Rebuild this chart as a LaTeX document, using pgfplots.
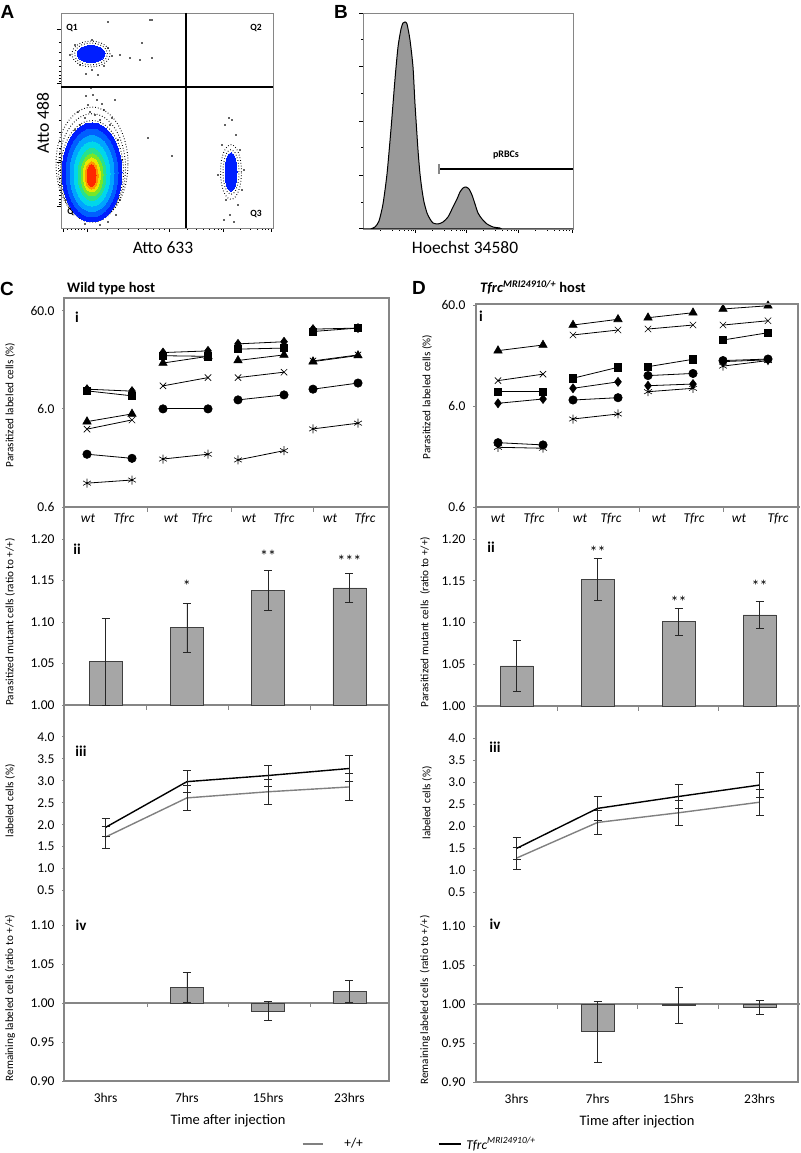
\documentclass[border=0pt]{standalone}
\usepackage{fontspec}
\setmainfont{Carlito}
\newfontfamily\arialfont{Liberation Sans}
\usepackage{pgfplots}
\usepackage{pgfplotstable}
\pgfplotsset{compat=1.18}
\newcommand{\fs}[1]{\fontsize{#1}{#1}\selectfont}
\definecolor{framegray}{RGB}{134,134,134}
\definecolor{bargray}{RGB}{166,166,166}
\definecolor{linegray}{RGB}{128,128,128}
\definecolor{histgray}{RGB}{153,153,153}
\definecolor{c1}{RGB}{0,30,255}
\definecolor{c2}{RGB}{0,95,255}
\definecolor{c3}{RGB}{0,165,255}
\definecolor{c4}{RGB}{0,215,235}
\definecolor{c5}{RGB}{40,225,140}
\definecolor{c6}{RGB}{120,230,40}
\definecolor{c7}{RGB}{235,230,0}
\definecolor{c8}{RGB}{255,150,0}
\definecolor{c9}{RGB}{255,40,0}

% ---------- data ----------
\pgfplotstableread{
x y e
105.6 1.052 0.052
186.9 1.093 0.030
268.1 1.138 0.024
349.4 1.141 0.017
}\Cii
\pgfplotstableread{
x y e
516.5 1.048 0.031
597.5 1.152 0.025
678.5 1.101 0.016
759.5 1.109 0.016
}\Dii
\pgfplotstableread{
x g ge b be
105.6 1.72 0.25 1.94 0.21
186.9 2.61 0.28 2.98 0.25
268.1 2.75 0.28 3.12 0.24
349.4 2.86 0.31 3.28 0.29
}\Ciii
\pgfplotstableread{
x g ge b be
516.5 1.27 0.25 1.49 0.24
597.5 2.08 0.28 2.40 0.27
678.5 2.30 0.28 2.67 0.28
759.5 2.54 0.29 2.93 0.29
}\Diii
\pgfplotstableread{
x y e
186.9 1.020 0.019
268.1 0.9895 0.012
349.4 1.0148 0.014
}\Civ
\pgfplotstableread{
x y e
597.5 0.9645 0.039
678.5 0.9987 0.023
759.5 0.9958 0.0085
}\Div

% one mouse: wt value and Tfrc value joined by a line
\newcommand{\pair}[5]{\addplot[ser,#1] coordinates {(#2,#3) (#4,#5)};}

\pgfplotsset{
  panel/.style={scale only axis, anchor=south west, clip=false,
    axis y line*=left, y axis line style={draw=none},
    tick align=outside, major tick length=3pt,
    ytick style={draw=framegray, line width=0.8pt},
    xtick style={draw=none},
    tick label style={font=\fs{13.5}},
    yticklabel style={xshift=-4pt},
    x axis line style={draw=framegray, line width=1.2pt}},
  logy/.style={y filter/.expression={ln(y)/ln(10)},
    ytick={-0.22185,0.77815,1.77815}, yticklabels={0.6,6.0,60.0}},
  ser/.style={black, line width=0.8pt, mark options={solid, fill=black, line width=0.6pt}},
  msq/.style={mark=square*, mark size=3.6pt},
  mdi/.style={mark=diamond*, mark size=4.5pt},
  mtr/.style={mark=triangle*, mark size=4.8pt},
  mxx/.style={mark=x, mark size=4.5pt},
  mci/.style={mark=*, mark size=4.2pt},
  mas/.style={mark=asterisk, mark size=4.5pt},
  errb/.style={error bars/y dir=both, error bars/y explicit,
    error bars/error bar style={black!85, line width=0.8pt},
    error bars/error mark options={rotate=90, mark size=4pt, black!85, line width=0.8pt}},
  bars/.style={ybar, bar width=33, fill=bargray, draw=black!75, line width=0.8pt, errb},
  ys/.style={every mark/.append style={yscale=#1}},
  blob/.style={only marks, mark=*, color=#1, mark options={draw=#1, fill=#1, line width=0pt}},
  ring/.style={only marks, mark=o, black, mark options={draw=black, line width=1pt, dash pattern=on 0.7pt off 2.1pt}},
  dots/.style={only marks, mark=*, mark size=0.55pt, black},
  flow/.style={scale only axis, anchor=south west,
    axis line style={draw=framegray, line width=0.8pt},
    tick pos=left, tick align=outside, major tick length=4pt, minor tick length=2pt,
    tick style={black, line width=0.5pt}, xticklabels={}, yticklabels={}},
}

\begin{document}
\begin{tikzpicture}
\useasboundingbox (0pt,0pt) rectangle (800pt,1153pt);

% ================= Panel A =================
\begin{axis}[flow, at={(61pt,925pt)}, width=212pt, height=215pt,
  xmin=61, xmax=273, ymin=13, ymax=228, y dir=reverse,
  xtick={63,87,169,223,271},
  minor xtick={67,71,75,78,81,84,96,107,118,128,138,146,153,159,164,187,196,203,209,214,218,221,240,250,257,262,265,268},
  ytick={29,83,162,206},
  minor ytick={42,52,60,66,71,75,78,81,105,120,132,141,148,153,157,160,170,178,185,190,195,199,202,204}]
\addplot[ring, ys=0.66, mark size=16.5pt] coordinates {(91,54)};
\addplot[ring, ys=0.68, mark size=19pt] coordinates {(91,54)};
\addplot[ring, ys=1.6, mark size=31.5pt] coordinates {(92,171)};
\addplot[ring, ys=1.62, mark size=33.5pt] coordinates {(92,168)};
\addplot[ring, ys=1.58, mark size=36pt] coordinates {(92,164)};
\addplot[ring, ys=2.8, mark size=8pt] coordinates {(231,172)};
\addplot[ring, ys=2.6, mark size=10.5pt] coordinates {(231,172)};
\addplot[dots] coordinates {(85,118) (90,112) (95,115) (100,120) (88,105) (97,100) (80,125) (104,110) (110,125) (75,130) (93,95) (115,100) (82,140) (118,140) (68,150) (122,160) (66,200) (120,200) (100,225) (85,224) (116,215) (108,222) (91,88) (86,96) (102,104) (78,112) (112,118)
 (75,45) (108,48) (80,65) (104,66) (70,55) (112,56) (92,40) (92,70) (120,55) (130,58) (140,60) (152,58) (108,22) (152,20) (142,43) (86,74) (98,75)
 (225,125) (232,120) (236,135) (222,145) (240,150) (226,200) (238,205) (230,215) (224,220) (242,190) (218,175) (244,170) (229,118) (234,222)
 (148,138) (172,156) (150,20)};
\addplot[blob=c1, ys=0.607, mark size=14pt] coordinates {(91,54)};
\addplot[blob=c1, ys=3.2, mark size=6pt] coordinates {(231,172)};
\addplot[blob=c1, ys=1.65, mark size=30pt] coordinates {(92,172.5)};
\addplot[blob=c2, ys=1.69, mark size=26pt] coordinates {(92,173)};
\addplot[blob=c3, ys=1.73, mark size=22pt] coordinates {(92,173.5)};
\addplot[blob=c4, ys=1.78, mark size=18pt] coordinates {(92,174)};
\addplot[blob=c5, ys=1.86, mark size=14pt] coordinates {(92,174.5)};
\addplot[blob=c6, ys=1.91, mark size=11pt] coordinates {(92,175)};
\addplot[blob=c7, ys=2.0, mark size=8.5pt] coordinates {(91.8,175)};
\addplot[blob=c8, ys=2.08, mark size=6.5pt] coordinates {(91.6,175.5)};
\addplot[blob=c9, ys=2.44, mark size=4.5pt] coordinates {(91.5,175.5)};
\addplot[black, line width=1.2pt] coordinates {(186,13) (186,228)};
\addplot[black, line width=1.2pt] coordinates {(61,87) (273,87)};
\node[font=\bfseries\fs{9.5}] at (axis cs:72,28) {Q1};
\node[font=\bfseries\fs{9.5}] at (axis cs:256,28) {Q2};
\node[font=\bfseries\fs{9.5}] at (axis cs:256,214) {Q3};
\node[font=\bfseries\fs{9.5}, fill=white, fill opacity=0.65, text opacity=1, inner sep=1.5pt] at (axis cs:73,212) {Q4};
\end{axis}

% ================= Panel B =================
\begin{axis}[flow, at={(363pt,924pt)}, width=210pt, height=216pt,
  xmin=363, xmax=573, ymin=0, ymax=216,
  xtick={415,466,518,572},
  minor xtick={380,392,399,404,408,411,413,432,444,451,456,460,462,464,483,495,502,507,511,514,516,535,547,554,559,563,566,569},
  ytick={1,54,108,163,216}, minor ytick={27,82,136,190}]
\addplot[fill=histgray, draw=black, line width=1pt, smooth, tension=0.4] coordinates {
(363,0) (370,0) (375,2) (379,8) (383,25) (387,55) (391,100) (395,150) (398,182) (401,200) (403,206) (405,207) (407,205) (410,189) (413,162) (415,125) (418,79) (420,55) (422,39) (424,27) (427,16) (430,10) (433,6) (438,5) (443,7) (448,12) (453,22) (457,30) (460,37) (463,41) (466,42) (469,40) (472,34) (475,25) (478,16) (482,10) (487,5) (493,2) (500,1) (506,0) (573,0)} \closedcycle;
\addplot[black, line width=1.2pt] coordinates {(439,60) (573,60)};
\addplot[framegray, line width=1.2pt] coordinates {(439,55) (439,65)};
\node[font=\bfseries\fs{10}] at (axis cs:506,74) {pRBCs};
\end{axis}

% ================= Panel C =================
\begin{axis}[panel, logy, at={(65pt,646pt)}, width=325pt, height=209pt,
  xmin=65, xmax=390, ymin=-0.22185, ymax=1.90849,
  axis x line*=bottom,
  xtick={88,124,171,202,249,284,330,365},
  xticklabels={\textit{wt},\textit{Tfrc},\textit{wt},\textit{Tfrc},\textit{wt},\textit{Tfrc},\textit{wt},\textit{Tfrc}}]
\pair{mdi}{87}{9.53}{132}{9.10}
\pair{msq}{87}{9.16}{132}{8.15}
\pair{mtr}{87}{4.45}{132}{5.33}
\pair{mxx}{87}{3.73}{132}{4.63}
\pair{mci}{87}{2.07}{132}{1.88}
\pair{mas}{87}{1.05}{132}{1.13}
\pair{mdi}{163}{22.5}{208}{23.4}
\pair{msq}{163}{20.9}{208}{20.6}
\pair{mtr}{163}{17.6}{208}{20.6}
\pair{mxx}{163}{10.3}{208}{12.5}
\pair{mci}{163}{6.0}{208}{6.0}
\pair{mas}{163}{1.85}{208}{2.07}
\pair{mdi}{238}{27.6}{284}{29.0}
\pair{msq}{238}{24.4}{284}{25.0}
\pair{mtr}{238}{18.7}{284}{21.3}
\pair{mxx}{238}{12.5}{284}{14.2}
\pair{mci}{238}{7.41}{284}{8.33}
\pair{mas}{238}{1.81}{284}{2.25}
\pair{mdi}{313}{39.0}{358}{40.0}
\pair{msq}{313}{36.9}{358}{40.0}
\pair{mtr}{313}{18.2}{358}{21.0}
\pair{mxx}{313}{18.5}{358}{21.3}
\pair{mci}{313}{9.53}{358}{11.0}
\pair{mas}{313}{3.75}{358}{4.29}
\end{axis}

\begin{axis}[panel, at={(65pt,448pt)}, width=325pt, height=178pt,
  xmin=65, xmax=390, ymin=0, ymax=0.2145,
  axis x line*=bottom, xtick=\empty,
  ytick={0,0.05,0.1,0.15,0.2}, yticklabels={1.00,1.05,1.10,1.15,1.20}]
\addplot[bars] table[x=x, y expr=\thisrow{y}-1, y error=e]{\Cii};
\node[font=\fs{16}, yshift=-3pt] at (axis cs:186.9,0.147) {*};
\node[font=\fs{16}, yshift=-3pt] at (axis cs:268.1,0.183) {**};
\node[font=\fs{16}, yshift=-3pt] at (axis cs:349.4,0.177) {***};
\end{axis}

\begin{axis}[panel, at={(65pt,258pt)}, width=325pt, height=170pt,
  xmin=65, xmax=390, ymin=0.4, ymax=4.27, axis x line=none,
  ytick={0.5,1,1.5,2,2.5,3,3.5,4}, yticklabels={0.5,1.0,1.5,2.0,2.5,3.0,3.5,4.0}]
\addplot[linegray, line width=1.4pt, mark=none, errb] table[x=x, y=g, y error=ge]{\Ciii};
\addplot[black, line width=1.4pt, mark=none, errb] table[x=x, y=b, y error=be]{\Ciii};
\end{axis}

\begin{axis}[panel, at={(65pt,72pt)}, width=325pt, height=167.7pt,
  xmin=65, xmax=390, ymin=-0.10, ymax=0.115,
  axis x line*=bottom, x axis line style={draw=none},
  xtick={105.6,186.9,268.1,349.4}, xticklabels={3hrs,7hrs,15hrs,23hrs},
  xticklabel style={yshift=-6pt},
  ytick={-0.1,-0.05,0,0.05,0.1}, yticklabels={0.90,0.95,1.00,1.05,1.10},
  legend style={at={(axis cs:302,-0.1808)}, anchor=west, draw=none, fill=none,
    inner sep=0pt, outer sep=0pt, nodes={inner sep=0pt, outer sep=0pt}, font=\fs{13.5}},
  legend image code/.code={\draw[#1] (0pt,0pt) -- (20pt,0pt); \path (41pt,0pt);}]
\addlegendimage{linegray, line width=1.3pt}
\addlegendentry{+/+}
\addplot[framegray, line width=1.2pt, forget plot] coordinates {(65,0) (390,0)};
\addplot[bars, forget plot] table[x=x, y expr=\thisrow{y}-1, y error=e]{\Civ};
\end{axis}

% ================= Panel D =================
\begin{axis}[panel, logy, at={(476pt,646pt)}, width=324pt, height=203pt,
  xmin=476, xmax=800, ymin=-0.22185, ymax=1.78817,
  axis x line*=bottom,
  xtick={498,534,580,611,659,694,739,778},
  xticklabels={\textit{wt},\textit{Tfrc},\textit{wt},\textit{Tfrc},\textit{wt},\textit{Tfrc},\textit{wt},\textit{Tfrc}}]
\pair{mtr}{498}{21.2}{543}{24.1}
\pair{mxx}{498}{10.7}{543}{12.4}
\pair{msq}{498}{8.31}{543}{8.31}
\pair{mdi}{498}{6.38}{543}{7.04}
\pair{mci}{498}{2.60}{543}{2.47}
\pair{mas}{498}{2.34}{543}{2.29}
\pair{mtr}{573}{38.0}{618}{43.3}
\pair{mxx}{573}{30.3}{618}{33.9}
\pair{msq}{573}{11.3}{618}{14.5}
\pair{mdi}{573}{8.98}{618}{10.4}
\pair{mci}{573}{6.88}{618}{7.25}
\pair{mas}{573}{4.46}{618}{5.00}
\pair{mtr}{648}{44.9}{693}{50.3}
\pair{mxx}{648}{34.7}{693}{38.0}
\pair{msq}{648}{14.7}{693}{17.4}
\pair{mdi}{648}{9.53}{693}{9.90}
\pair{mci}{648}{12.0}{693}{12.6}
\pair{mas}{648}{8.31}{693}{8.98}
\pair{mtr}{723}{54.8}{768}{59.0}
\pair{mxx}{723}{38.0}{768}{41.9}
\pair{msq}{723}{27.0}{768}{31.9}
\pair{mdi}{723}{16.5}{768}{17.2}
\pair{mci}{723}{16.9}{768}{17.5}
\pair{mas}{723}{14.9}{768}{16.9}
\end{axis}

\begin{axis}[panel, at={(476pt,447pt)}, width=324pt, height=179pt,
  xmin=476, xmax=800, ymin=0, ymax=0.2144,
  axis x line*=bottom, xtick=\empty,
  ytick={0,0.05,0.1,0.15,0.2}, yticklabels={1.00,1.05,1.10,1.15,1.20}]
\addplot[bars] table[x=x, y expr=\thisrow{y}-1, y error=e]{\Dii};
\node[font=\fs{16}, yshift=-3pt] at (axis cs:597.5,0.188) {**};
\node[font=\fs{16}, yshift=-3pt] at (axis cs:678.5,0.128) {**};
\node[font=\fs{16}, yshift=-3pt] at (axis cs:759.5,0.147) {**};
\end{axis}

\begin{axis}[panel, at={(476pt,256.6pt)}, width=324pt, height=170.3pt,
  xmin=476, xmax=800, ymin=0.4, ymax=4.27, axis x line=none,
  ytick={0.5,1,1.5,2,2.5,3,3.5,4}, yticklabels={0.5,1.0,1.5,2.0,2.5,3.0,3.5,4.0}]
\addplot[linegray, line width=1.4pt, mark=none, errb] table[x=x, y=g, y error=ge]{\Diii};
\addplot[black, line width=1.4pt, mark=none, errb] table[x=x, y=b, y error=be]{\Diii};
\end{axis}

\begin{axis}[panel, at={(476pt,71pt)}, width=324pt, height=167.7pt,
  xmin=476, xmax=800, ymin=-0.10, ymax=0.115,
  axis x line*=bottom, x axis line style={draw=none},
  xtick={516.5,597.5,678.5,759.5}, xticklabels={3hrs,7hrs,15hrs,23hrs},
  xticklabel style={yshift=-6pt},
  ytick={-0.1,-0.05,0,0.05,0.1}, yticklabels={0.90,0.95,1.00,1.05,1.10},
  legend style={at={(axis cs:438,-0.1795)}, anchor=west, draw=none, fill=none,
    inner sep=0pt, outer sep=0pt, nodes={inner sep=0pt, outer sep=0pt}, font=\fs{13.5}},
  legend image code/.code={\draw[#1] (0pt,0pt) -- (22pt,0pt); \path (27pt,0pt);}]
\addlegendimage{black, line width=1.3pt}
\addlegendentry{\textit{Tfrc\textsuperscript{MRI24910/+}}}
\addplot[framegray, line width=1.2pt, forget plot] coordinates {(476,0) (800,0)};
\addplot[bars, forget plot] table[x=x, y expr=\thisrow{y}-1, y error=e]{\Div};
\end{axis}

% ================= frames, separators & text =================
\draw[framegray, line width=1.6pt] (64pt,72pt) rectangle (389pt,855pt);
\draw[framegray, line width=1.6pt] (476pt,71pt) rectangle (798pt,849pt);
\foreach \sx in {147.7,231,313.3} {\draw[framegray, line width=1pt] (\sx pt,646pt) -- (\sx pt,641pt);}
\foreach \sx in {146.7,228.3,310} {\draw[framegray, line width=1pt] (\sx pt,448pt) -- (\sx pt,443pt);}
\foreach \sx in {147,228.3,310} {\draw[framegray, line width=1pt] (\sx pt,151pt) -- (\sx pt,146pt);}
\foreach \sx in {558,639,723} {\draw[framegray, line width=1pt] (\sx pt,646pt) -- (\sx pt,641pt);}
\foreach \sx in {557,638,718} {\draw[framegray, line width=1pt] (\sx pt,447pt) -- (\sx pt,442pt);}
\foreach \sx in {557,637,718} {\draw[framegray, line width=1pt] (\sx pt,149pt) -- (\sx pt,144pt);}

\node[font=\arialfont\bfseries\fs{19}, inner sep=0] at (7.5pt,1141.5pt) {A};
\node[font=\arialfont\bfseries\fs{19}, inner sep=0] at (341pt,1141.5pt) {B};
\node[font=\arialfont\bfseries\fs{19}, inner sep=0] at (7pt,864.5pt) {C};
\node[font=\arialfont\bfseries\fs{19}, inner sep=0] at (419pt,865pt) {D};

\node[font=\fs{17.5}, rotate=90] at (43pt,1030pt) {Atto 488};
\node[font=\fs{17.5}] at (163pt,905pt) {Atto 633};
\node[font=\fs{17.5}] at (465pt,905pt) {Hoechst 34580};

\node[font=\bfseries\fs{14.5}, anchor=base west, inner sep=0] at (67pt,860pt) {Wild type host};
\node[font=\bfseries\fs{14.5}, anchor=base west, inner sep=0] at (480pt,860pt) {\textit{Tfrc}\textsuperscript{\textit{MRI24910/+}} host};

\node[font=\fs{11.2}, rotate=90] at (10pt,748pt) {Parasitized labeled cells (\%)};
\node[font=\fs{11.2}, rotate=90] at (10pt,531pt) {Parasitized mutant cells (ratio to +/+)};
\node[font=\fs{11.2}, rotate=90] at (10pt,352pt) {labeled cells (\%)};
\node[font=\fs{11.2}, rotate=90] at (10pt,155pt) {Remaining labeled cells (ratio to +/+)};
\node[font=\fs{11.2}, rotate=90] at (427pt,756pt) {Parasitized labeled cells (\%)};
\node[font=\fs{11.2}, rotate=90] at (425pt,531pt) {Parasitized mutant cells\ \ (ratio to +/+)};
\node[font=\fs{11.2}, rotate=90] at (427pt,350pt) {labeled cells (\%)};
\node[font=\fs{11.2}, rotate=90] at (425pt,153pt) {Remaining labeled cells\ \ (ratio to +/+)};

\node[font=\bfseries\fs{15}] at (77pt,835.5pt) {i};
\node[font=\bfseries\fs{15}] at (77pt,604pt) {ii};
\node[font=\bfseries\fs{15}] at (81pt,401.5pt) {iii};
\node[font=\bfseries\fs{15}] at (81pt,228pt) {iv};
\node[font=\bfseries\fs{15}] at (481pt,837pt) {i};
\node[font=\bfseries\fs{15}] at (491pt,605.5pt) {ii};
\node[font=\bfseries\fs{15}] at (495pt,405.5pt) {iii};
\node[font=\bfseries\fs{15}] at (495pt,229pt) {iv};

\node[font=\fs{14.5}] at (228pt,32pt) {Time after injection};
\node[font=\fs{14.5}] at (637pt,31pt) {Time after injection};
\end{tikzpicture}
\end{document}
